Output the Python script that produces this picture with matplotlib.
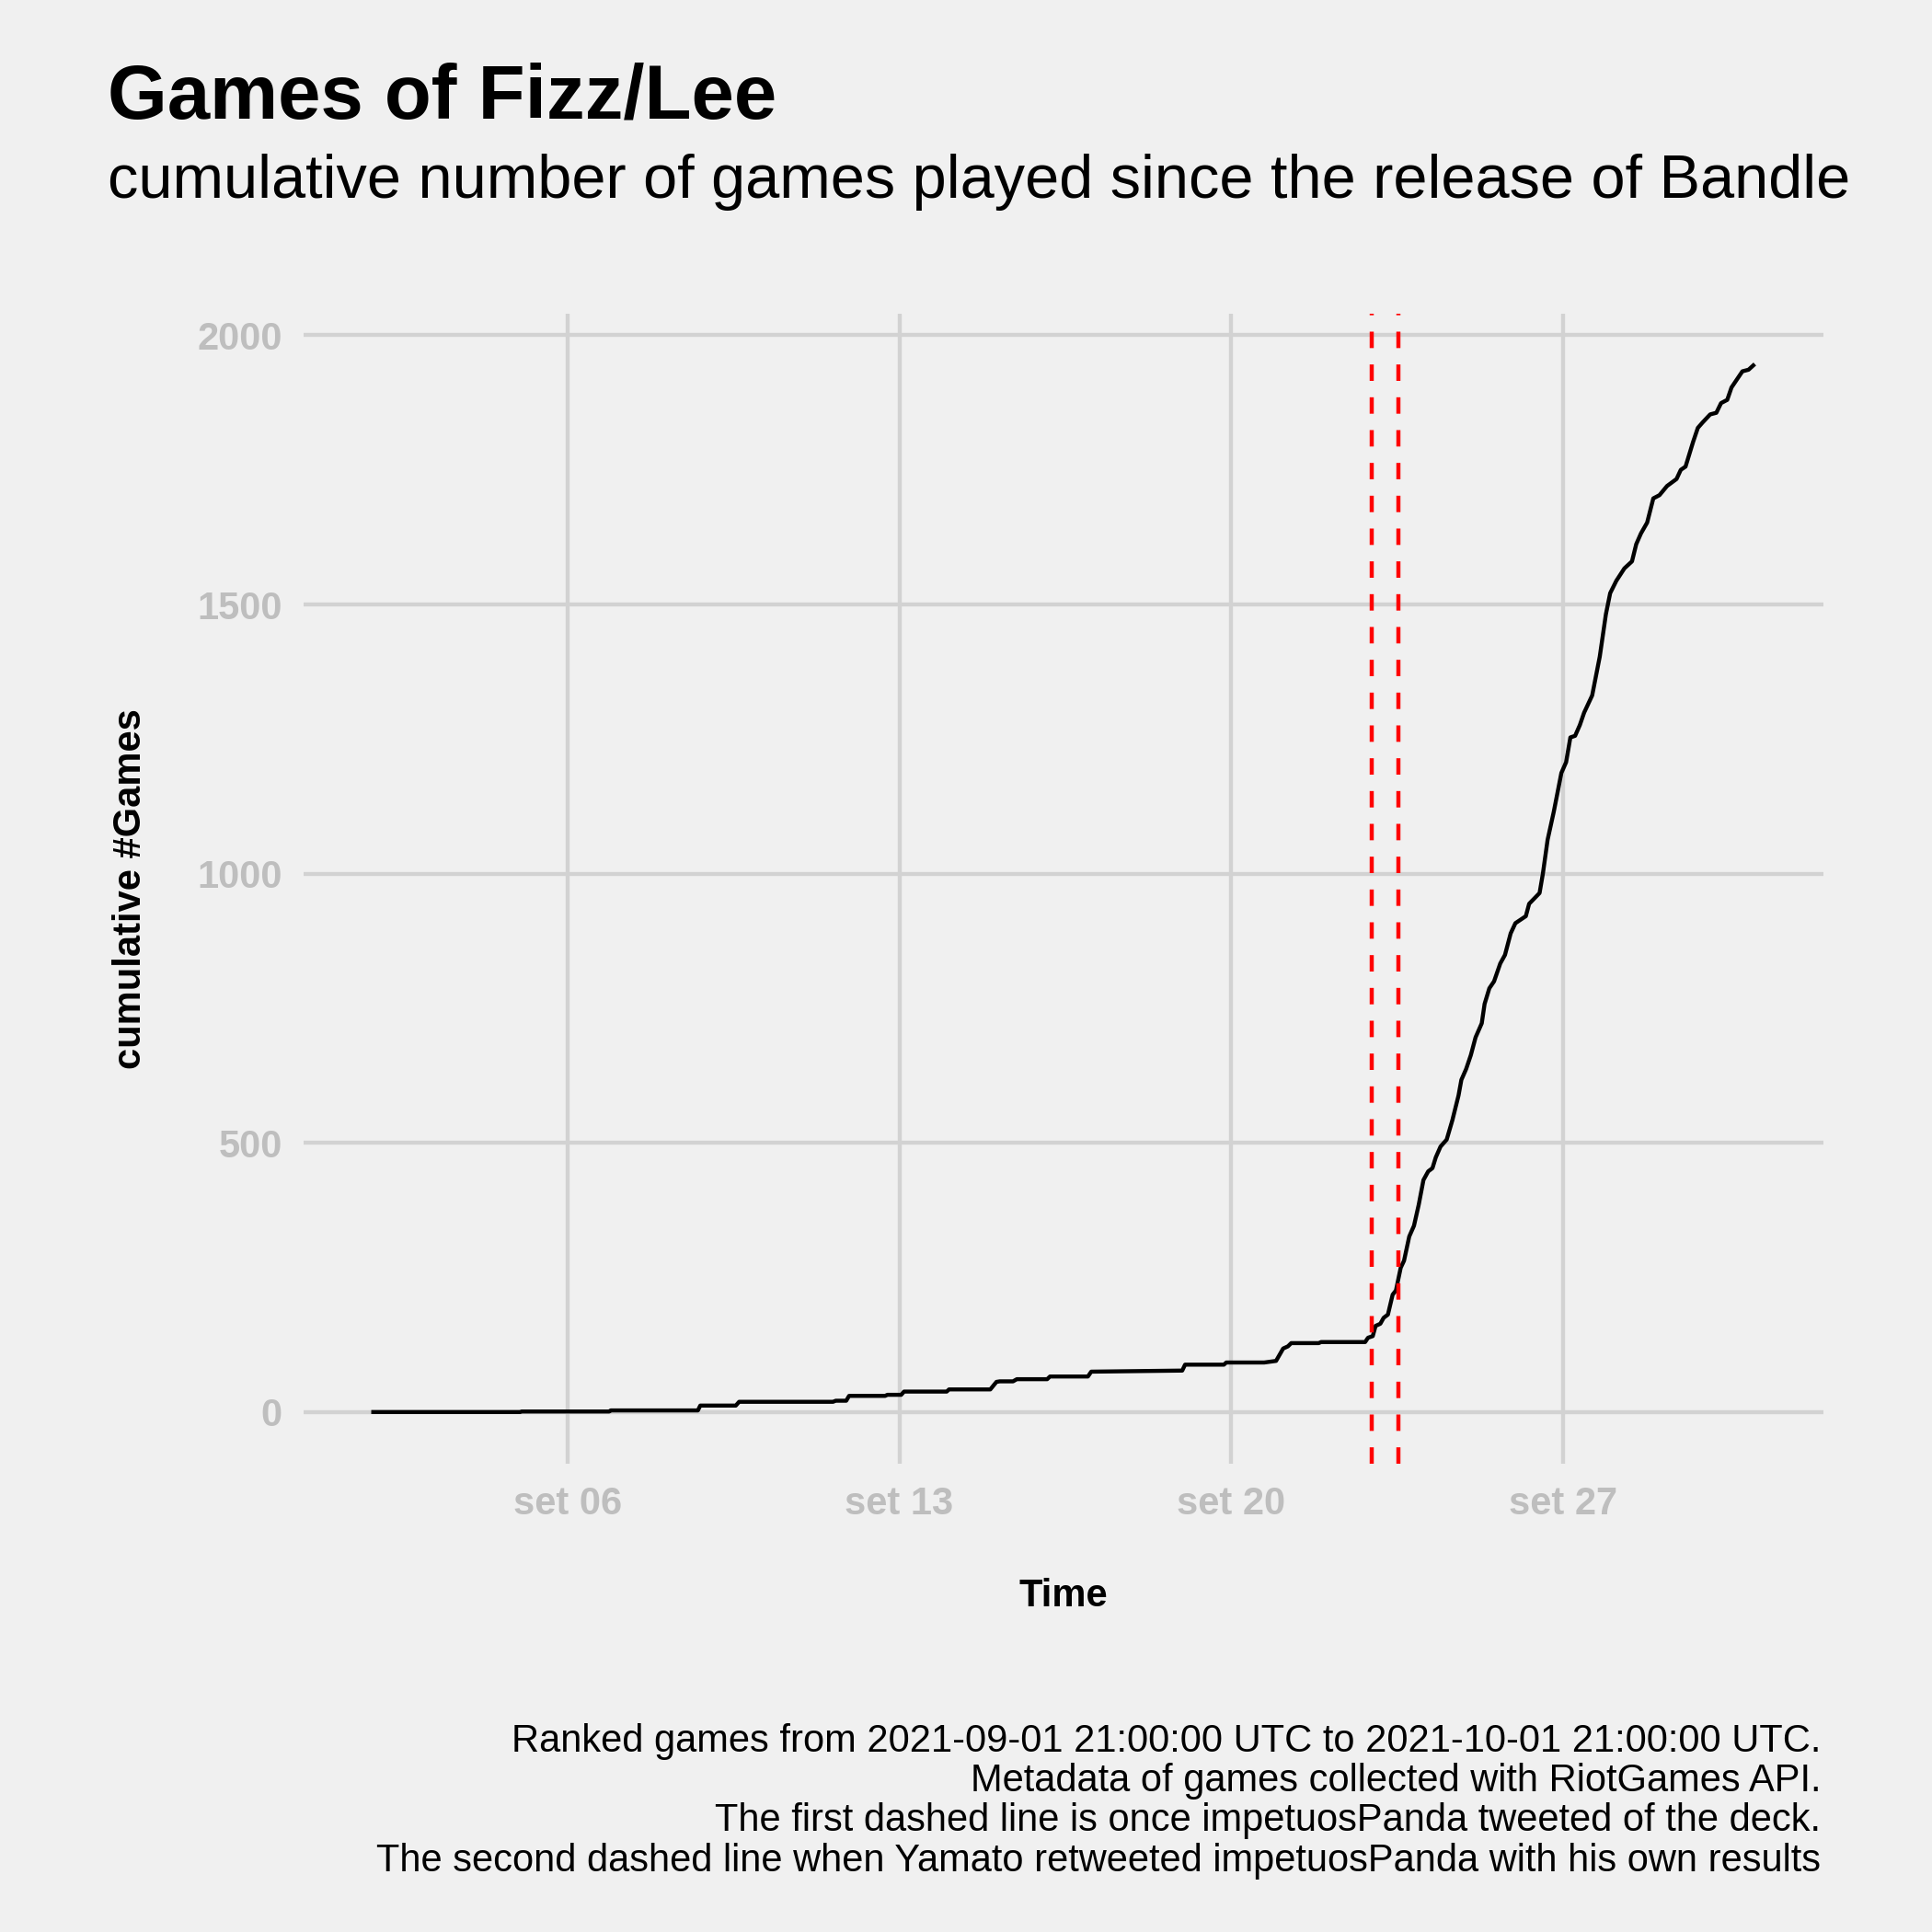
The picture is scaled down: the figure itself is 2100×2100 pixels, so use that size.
import pandas as pd
import matplotlib.pyplot as plt

plt.rc('font', family='Liberation Sans')

# cumulative games, time as days after 2021-09-01 00:00
start = pd.Timestamp('2021-09-01')
day_offset = [0.90, 4.00, 4.03, 5.88, 5.91, 7.75, 7.80, 8.55, 8.62, 10.60,
              10.66, 10.88, 10.94, 11.70, 11.75, 12.04, 12.10, 13.00, 13.05, 13.92,
              14.05, 14.12, 14.40, 14.48, 15.12, 15.18, 15.98, 16.05, 17.00, 17.97,
              18.03, 18.85, 18.90, 19.70, 19.95, 20.10, 20.20, 20.27, 20.85, 20.90,
              21.83, 21.89, 21.99, 22.05, 22.15, 22.22, 22.31, 22.41, 22.48, 22.58,
              22.65, 22.76, 22.86, 22.96, 23.06, 23.16, 23.25, 23.32, 23.42, 23.55,
              23.67, 23.80, 23.86, 23.96, 24.06, 24.16, 24.29, 24.35, 24.45, 24.55,
              24.68, 24.78, 24.90, 25.00, 25.22, 25.29, 25.51, 25.58, 25.68, 25.81,
              25.97, 26.07, 26.16, 26.26, 26.36, 26.45, 26.62, 26.78, 26.91, 27.00,
              27.13, 27.30, 27.46, 27.55, 27.65, 27.78, 27.91, 28.04, 28.20, 28.40,
              28.49, 28.59, 28.75, 28.85, 28.95, 29.11, 29.24, 29.34, 29.47, 29.56,
              29.69, 29.79, 29.92, 30.02]
cum_games = [0, 0, 1, 1, 3, 3, 12, 12, 19, 19,
             21, 21, 30, 30, 32, 32, 38, 38, 42, 42,
             56, 57, 57, 61, 61, 66, 66, 75, 76, 77,
             88, 88, 92, 92, 95, 118, 122, 128, 128, 130,
             130, 138, 141, 160, 164, 175, 181, 218, 226, 268,
             281, 326, 346, 385, 431, 447, 453, 473, 493, 506,
             542, 588, 617, 637, 663, 696, 722, 758, 787, 800,
             833, 849, 889, 908, 921, 944, 964, 1000, 1063, 1115,
             1187, 1207, 1253, 1256, 1276, 1299, 1331, 1403, 1482, 1521,
             1544, 1567, 1580, 1612, 1632, 1652, 1697, 1703, 1720, 1733,
             1750, 1756, 1802, 1828, 1838, 1853, 1856, 1874, 1880, 1903,
             1920, 1933, 1936, 1944]

tweet_days = [21.96, 22.54]  # impetuosPanda tweet, Yamato retweet
tick_dates = ['2021-09-06', '2021-09-13', '2021-09-20', '2021-09-27']
tick_labels = ['set 06', 'set 13', 'set 20', 'set 27']
y_ticks = [0, 500, 1000, 1500, 2000]

caption_lines = ['Ranked games from 2021-09-01 21:00:00 UTC to 2021-10-01 21:00:00 UTC.',
                 'Metadata of games collected with RiotGames API.',
                 'The first dashed line is once impetuosPanda tweeted of the deck.',
                 'The second dashed line when Yamato retweeted impetuosPanda with his own results']

times = start + pd.to_timedelta(day_offset, unit='D')

bg = '#F0F0F0'
fig = plt.figure(figsize=(7, 7), dpi=300, facecolor=bg)
ax = fig.add_axes([0.15714, 0.24238, 0.78667, 0.59524])
ax.set_facecolor(bg)
for s in ax.spines.values():
    s.set_visible(False)

ax.plot(times, cum_games, color='black', lw=1.05, solid_joinstyle='round', zorder=3)
for d in tweet_days:
    ax.axvline(start + pd.Timedelta(days=d), color='red', lw=1.07, ls=(0, (4, 4)), zorder=4)

ax.set_xlim(start + pd.Timedelta(days=-0.57), start + pd.Timedelta(days=31.5))
ax.set_ylim(-96, 2040)

ax.set_xticks(pd.to_datetime(tick_dates))
ax.set_xticklabels(tick_labels, fontweight='bold')
ax.set_yticks(y_ticks)
ax.set_yticklabels([str(v) for v in y_ticks], fontweight='bold')
ax.tick_params(axis='both', length=0, labelsize=10, labelcolor='#BEBEBE')
ax.tick_params(axis='x', pad=5.7)
ax.tick_params(axis='y', pad=5.6)
ax.minorticks_off()

ax.grid(True, color='#D2D2D2', lw=1.05)
ax.set_axisbelow(True)

ax.set_xlabel('Time', fontsize=10, fontweight='bold', labelpad=14.5)
ax.set_ylabel('cumulative #Games', fontsize=10, fontweight='bold', labelpad=12.5)

fig.text(0.0557, 0.9389, 'Games of Fizz/Lee', fontsize=20, fontweight='bold', va='baseline')
fig.text(0.0557, 0.8976, 'cumulative number of games played since the release of Bandle',
         fontsize=16, va='baseline')

# caption, one line at a time (right aligned, ~43 px apart)
for i, line in enumerate(caption_lines):
    fig.text(0.9424, 1 - (1904 + 43.2 * i) / 2100, line, fontsize=10,
             ha='right', va='baseline')

fig.savefig('out.png', dpi=300, facecolor=bg)
